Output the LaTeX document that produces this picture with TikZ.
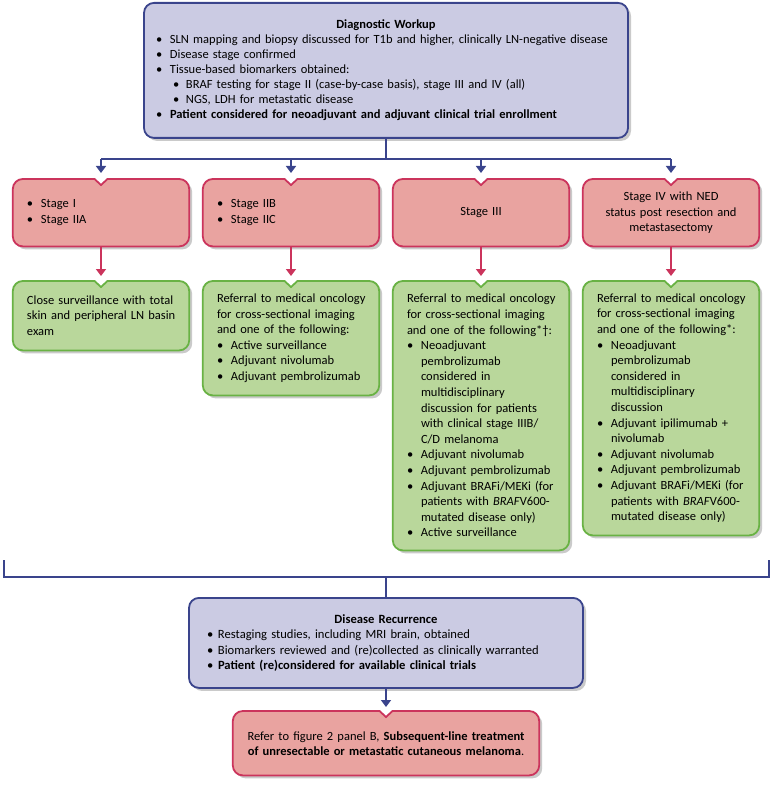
\documentclass[tikz,border=0pt]{standalone}
\usepackage{fontspec}
\setmainfont{Carlito}
\usetikzlibrary{arrows.meta,shadows,backgrounds}

\definecolor{workfill}{RGB}{203,203,227}
\definecolor{workline}{RGB}{58,68,140}
\definecolor{stagefill}{RGB}{233,163,160}
\definecolor{stageline}{RGB}{203,52,92}
\definecolor{carefill}{RGB}{185,215,155}
\definecolor{careline}{RGB}{105,178,68}

\newcommand\boxfont{\fontsize{12.5}{15.6}\selectfont}
\newcommand\topfont{\fontsize{12.5}{15}\selectfont}
\newcommand\recfont{\fontsize{12.6}{15.3}\selectfont}
\newcommand\nextfont{\fontsize{12.5}{15}\selectfont}

% one line each, never broken
\newcommand\pline[1]{\mbox{#1}}
\newcommand\itm[1]{\mbox{\makebox[14pt][l]{\textbullet}#1}}
\newcommand\recitm[1]{\mbox{\makebox[11pt][l]{\textbullet}#1}}
\newcommand\contline[1]{\mbox{\hspace*{14pt}#1}}
\newcommand\subitm[1]{\mbox{\hspace*{17pt}\makebox[13pt][l]{\textbullet}#1}}

\tikzset{
  shade box/.style={drop shadow={shadow xshift=3pt,shadow yshift=-3pt,opacity=.35,fill=black!60}},
  workbox/.style={draw=workline, fill=workfill, line width=1.8pt, rounded corners=10pt,
    shade box, anchor=north, align=left, inner ysep=0pt},
  textbox/.style={anchor=north, align=left, inner xsep=14pt, inner ysep=0pt,
    text width=148pt, font=\boxfont},
  stageframe/.style={draw=stageline, fill=stagefill, line width=1.8pt, shade box},
  careframe/.style={draw=careline, fill=carefill, line width=1.8pt, shade box},
  blueline/.style={draw=workline, line width=1.6pt},
  bluearrow/.style={blueline, -{Triangle[width=10pt,length=7pt]}},
  redarrow/.style={draw=stageline, line width=1.6pt, -{Triangle[width=10pt,length=7pt]}},
}

% frame with a notch on top, drawn behind a node
\newcommand\notchframe[2]{%
  \begin{pgfonlayer}{background}
    \draw[#2] (#1.west) [rounded corners=10pt] -- (#1.north west) [sharp corners]
      -- ([xshift=-6.5pt]#1.north) -- ([yshift=-6pt]#1.north) -- ([xshift=6.5pt]#1.north)
      [rounded corners=10pt] -- (#1.north east) -- (#1.south east) -- (#1.south west) -- cycle;
  \end{pgfonlayer}}

\begin{document}
\begin{tikzpicture}[x=1pt,y=-1pt]
\useasboundingbox (0,0) rectangle (776,786);

% workup
\node[workbox, text width=460pt, inner xsep=12pt, minimum height=135pt, font=\topfont] (work) at (386,2) {%
  \makebox[\hsize]{\textbf{Diagnostic Workup}}\\
  \itm{SLN mapping and biopsy discussed for T1b and higher, clinically LN-negative disease}\\
  \itm{Disease stage confirmed}\\
  \itm{Tissue-based biomarkers obtained:}\\
  \subitm{BRAF testing for stage II (case-by-case basis), stage III and IV (all)}\\
  \subitm{NGS, LDH for metastatic disease}\\
  \itm{\textbf{Patient considered for neoadjuvant and adjuvant clinical trial enrollment}}};

% stages
\node[textbox, minimum height=67pt] (s1) at (101,179) {\itm{Stage I}\\\itm{Stage IIA}};
\node[textbox, minimum height=67pt] (s2) at (291,179) {\itm{Stage IIB}\\\itm{Stage IIC}};
\node[textbox, minimum height=67pt, align=center] (s3) at (481,179) {Stage III};
\node[textbox, minimum height=67pt, align=center] (s4) at (671,179) {%
  \pline{Stage IV with NED}\\\pline{status post resection and}\\\pline{metastasectomy}};

% care
\node[textbox, minimum height=69pt] (g1) at (101,281) {%
  \pline{Close surveillance with total}\\
  \pline{skin and peripheral LN basin}\\
  \pline{exam}};
\node[textbox, minimum height=114pt] (g2) at (291,281) {%
  \pline{Referral to medical oncology}\\
  \pline{for cross-sectional imaging}\\
  \pline{and one of the following:}\\
  \itm{Active surveillance}\\
  \itm{Adjuvant nivolumab}\\
  \itm{Adjuvant pembrolizumab}};
\node[textbox, minimum height=269pt] (g3) at (481,281) {%
  \pline{Referral to medical oncology}\\
  \pline{for cross-sectional imaging}\\
  \pline{and one of the following*\textdagger:}\\
  \itm{Neoadjuvant}\\
  \contline{pembrolizumab}\\
  \contline{considered in}\\
  \contline{multidisciplinary}\\
  \contline{discussion for patients}\\
  \contline{with clinical stage IIIB/}\\
  \contline{C/D melanoma}\\
  \itm{Adjuvant nivolumab}\\
  \itm{Adjuvant pembrolizumab}\\
  \itm{Adjuvant BRAFi/MEKi (for}\\
  \contline{patients with \textit{BRAF}V600-}\\
  \contline{mutated disease only)}\\
  \itm{Active surveillance}};
\node[textbox, minimum height=254pt] (g4) at (671,281) {%
  \pline{Referral to medical oncology}\\
  \pline{for cross-sectional imaging}\\
  \pline{and one of the following*:}\\
  \itm{Neoadjuvant}\\
  \contline{pembrolizumab}\\
  \contline{considered in}\\
  \contline{multidisciplinary}\\
  \contline{discussion}\\
  \itm{Adjuvant ipilimumab +}\\
  \contline{nivolumab}\\
  \itm{Adjuvant nivolumab}\\
  \itm{Adjuvant pembrolizumab}\\
  \itm{Adjuvant BRAFi/MEKi (for}\\
  \contline{patients with \textit{BRAF}V600-}\\
  \contline{mutated disease only)}};

\foreach \n in {s1,s2,s3,s4} {\notchframe{\n}{stageframe}}
\foreach \n in {g1,g2,g3,g4} {\notchframe{\n}{careframe}}

% recurrence
\node[workbox, text width=358pt, inner xsep=18pt, minimum height=90pt, font=\recfont] (rec) at (386,597) {%
  \makebox[\hsize]{\textbf{Disease Recurrence}}\\
  \recitm{Restaging studies, including MRI brain, obtained}\\
  \recitm{Biomarkers reviewed and (re)collected as clinically warranted}\\
  \recitm{\textbf{Patient (re)considered for available clinical trials}}};

\node[textbox, text width=290pt, inner xsep=8pt, minimum height=64pt, align=center, font=\nextfont] (next) at (386,711) {%
  \pline{Refer to figure 2 panel B, \textbf{Subsequent-line treatment}}\\
  \pline{\textbf{of unresectable or metastatic cutaneous melanoma}.}};
\notchframe{next}{stageframe}

% connectors
\draw[blueline] (work.south) -- ++(0,20) coordinate (split);
\draw[blueline] (split -| s1.north) -- (split -| s4.north);
\foreach \n in {s1,s2,s3,s4}
  \draw[bluearrow] (split -| \n.north) -- ([yshift=6pt]\n.north);
\draw[redarrow] (s1.south) -- ([yshift=5pt]g1.north);
\draw[redarrow] (s2.south) -- ([yshift=5pt]g2.north);
\draw[redarrow] (s3.south) -- ([yshift=5pt]g3.north);
\draw[redarrow] (s4.south) -- ([yshift=5pt]g4.north);

\coordinate (barL) at (4,560);
\coordinate (barR) at (769,560);
\coordinate (bar) at (386,577);
\draw[blueline] (barL) |- (bar) -| (barR);
\draw[blueline] (bar) -- (rec.north);
\draw[bluearrow] (rec.south) -- ([yshift=4pt]next.north);
\end{tikzpicture}
\end{document}
